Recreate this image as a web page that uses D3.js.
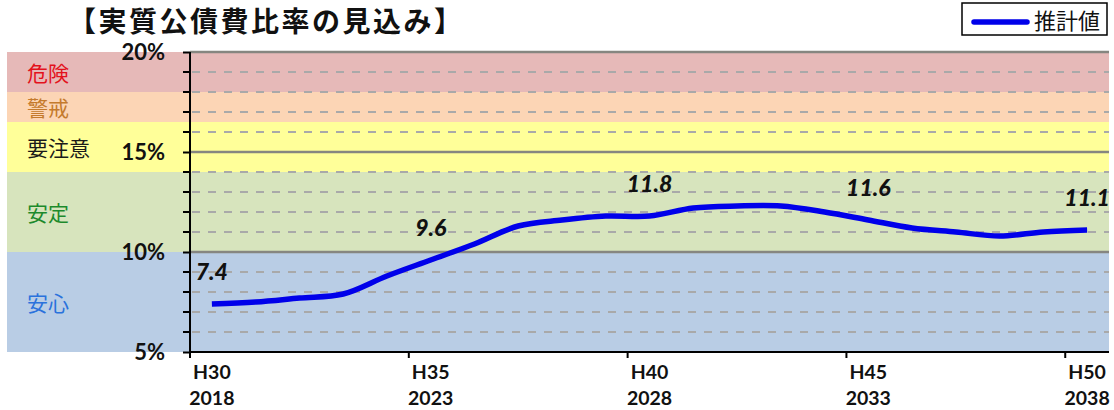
<!DOCTYPE html>
<html lang="ja">
<head>
<meta charset="utf-8">
<script src="https://cdn.jsdelivr.net/npm/d3@7"></script>
<style>
  html, body { margin: 0; padding: 0; background: #fff; }
  svg { display: block; }
</style>
</head>
<body>
<svg id="chart" width="1114" height="410"></svg>
<script>
// Fiscal years (Heisei era and Western calendar)
const years = d3.range(2018, 2039);
const ratio = [7.4, 7.5, 7.7, 7.9, 8.8, 9.6, 10.4, 11.3, 11.6, 11.8, 11.8,
               12.2, 12.3, 12.3, 12.0, 11.6, 11.2, 11.0, 10.8, 11.0, 11.1];
const labelledYears = [2018, 2023, 2028, 2033, 2038];
const tickLabelsEra = ["H30", "H35", "H40", "H45", "H50"];
const tickLabelsYear = ["2018", "2023", "2028", "2033", "2038"];

// Risk zones (percent range)
const zoneNames = ["危険", "警戒", "要注意", "安定", "安心"];
const zoneLow = [18, 16.5, 14, 10, 5];
const zoneHigh = [20, 18, 16.5, 14, 10];
const zoneFill = ["#e6b9b8", "#fcd5b5", "#ffff99", "#d7e4bd", "#b9cde5"];
const zoneText = ["#e3121c", "#c47a2c", "#1a1a1a", "#1d8a2c", "#2a72dc"];

const yMajor = [5, 10, 15, 20];
const yMinor = d3.range(5, 21);

const svg = d3.select("#chart");
const plotL = 190, plotR = 1109, plotT = 52, plotB = 352;

const x = d3.scaleBand().domain(years).range([plotL, plotR]).padding(0);
const y = d3.scaleLinear().domain([5, 20]).range([plotB, plotT]);
const cx = d => x(d) + x.bandwidth() / 2;

// Zone bands, running under the zone labels on the left
svg.append("g").selectAll("rect")
  .data(zoneNames)
  .join("rect")
  .attr("x", 7)
  .attr("width", plotR - 7)
  .attr("y", (d, i) => y(zoneHigh[i]))
  .attr("height", (d, i) => y(zoneLow[i]) - y(zoneHigh[i]))
  .attr("fill", (d, i) => zoneFill[i]);

svg.append("g").selectAll("text")
  .data(zoneNames)
  .join("text")
  .attr("x", 27)
  .attr("y", (d, i) => (y(zoneLow[i]) + y(zoneHigh[i])) / 2 + 1)
  .attr("dy", "0.36em")
  .attr("fill", (d, i) => zoneText[i])
  .style("font-family", "'Noto Sans CJK JP'")
  .style("font-size", "21px")
  .text(d => d);

// Grid: dashed every 1%, solid every 5%
const grid = svg.append("g");
grid.selectAll("line.minor")
  .data(yMinor.filter(v => v % 5 !== 0))
  .join("line")
  .attr("class", "minor")
  .attr("x1", plotL + 2).attr("x2", plotR)
  .attr("y1", d => y(d)).attr("y2", d => y(d))
  .attr("stroke", "#a9a9a9")
  .attr("stroke-width", 2)
  .attr("stroke-dasharray", "8,8");
grid.selectAll("line.major")
  .data(yMajor.filter(v => v > 5))
  .join("line")
  .attr("class", "major")
  .attr("x1", plotL).attr("x2", plotR)
  .attr("y1", d => y(d)).attr("y2", d => y(d))
  .attr("stroke", "#868680")
  .attr("stroke-width", 2.5);

// Y axis
const yAxis = svg.append("g")
  .attr("transform", `translate(${plotL},0)`)
  .call(d3.axisLeft(y).tickValues(yMajor).tickSize(7).tickPadding(18)
    .tickFormat(d => d + "%"));
yAxis.select(".domain").attr("stroke", "#000").attr("stroke-width", 2).attr("d", `M0,${plotT}V${plotB}`);
yAxis.selectAll(".tick line").attr("stroke", "#000").attr("stroke-width", 2);
yAxis.selectAll(".tick text")
  .attr("fill", "#111")
  .style("font-family", "Lato, sans-serif")
  .style("font-weight", "bold")
  .style("font-size", "22px");
svg.append("g").selectAll("line")
  .data(yMinor.filter(v => v % 5 !== 0))
  .join("line")
  .attr("x1", plotL - 7).attr("x2", plotL)
  .attr("y1", d => y(d)).attr("y2", d => y(d))
  .attr("stroke", "#000").attr("stroke-width", 2);

// X axis: ticks on category boundaries every five years
svg.append("line")
  .attr("x1", plotL).attr("x2", plotR)
  .attr("y1", plotB).attr("y2", plotB)
  .attr("stroke", "#000").attr("stroke-width", 2);
svg.append("g").selectAll("line")
  .data(labelledYears)
  .join("line")
  .attr("x1", d => x(d)).attr("x2", d => x(d))
  .attr("y1", plotB).attr("y2", plotB + 6)
  .attr("stroke", "#000").attr("stroke-width", 2);
const xl = svg.append("g")
  .style("font-family", "Lato, sans-serif")
  .style("font-weight", "bold")
  .style("font-size", "19.5px")
  .attr("fill", "#111")
  .attr("text-anchor", "middle");
xl.selectAll("text.era")
  .data(labelledYears)
  .join("text")
  .attr("class", "era")
  .attr("x", d => cx(d))
  .attr("y", 372).attr("dy", "0.36em")
  .text((d, i) => tickLabelsEra[i]);
xl.selectAll("text.yr")
  .data(labelledYears)
  .join("text")
  .attr("class", "yr")
  .attr("x", d => cx(d))
  .attr("y", 398).attr("dy", "0.36em")
  .text((d, i) => tickLabelsYear[i]);

// Projected ratio line
const line = d3.line()
  .x((d, i) => cx(years[i]))
  .y(d => y(d))
  .curve(d3.curveCatmullRom.alpha(0.5));
svg.append("path")
  .datum(ratio)
  .attr("d", line)
  .attr("fill", "none")
  .attr("stroke", "#0000ea")
  .attr("stroke-width", 5.5)
  .attr("stroke-linejoin", "round");

// Value labels
svg.append("g").selectAll("text")
  .data(labelledYears)
  .join("text")
  .attr("x", d => cx(d))
  .attr("y", d => y(ratio[years.indexOf(d)]) - 24)
  .attr("text-anchor", "middle")
  .attr("fill", "#111")
  .style("font-family", "Lato, sans-serif")
  .style("font-weight", "900")
  .style("font-style", "italic")
  .style("font-size", "23px")
  .text(d => ratio[years.indexOf(d)].toFixed(1));

// Title
svg.append("text")
  .attr("x", 68).attr("y", 22).attr("dy", "0.36em")
  .attr("fill", "#111")
  .style("font-family", "'Noto Sans CJK JP'")
  .style("font-weight", "bold")
  .style("font-size", "28px")
  .style("letter-spacing", "2.5px")
  .text("【実質公債費比率の見込み】");

// Legend
const lg = svg.append("g");
lg.append("rect")
  .attr("x", 962).attr("y", 3).attr("width", 145).attr("height", 32)
  .attr("fill", "#fff").attr("stroke", "#000").attr("stroke-width", 1.5);
lg.append("line")
  .attr("x1", 974).attr("x2", 1027).attr("y1", 22).attr("y2", 22)
  .attr("stroke", "#0000ea").attr("stroke-width", 5.5).attr("stroke-linecap", "round");
lg.append("text")
  .attr("x", 1034).attr("y", 21).attr("dy", "0.36em")
  .attr("fill", "#111")
  .style("font-family", "'Noto Sans CJK JP'")
  .style("font-size", "22px")
  .text("推計値");
</script>
</body>
</html>
